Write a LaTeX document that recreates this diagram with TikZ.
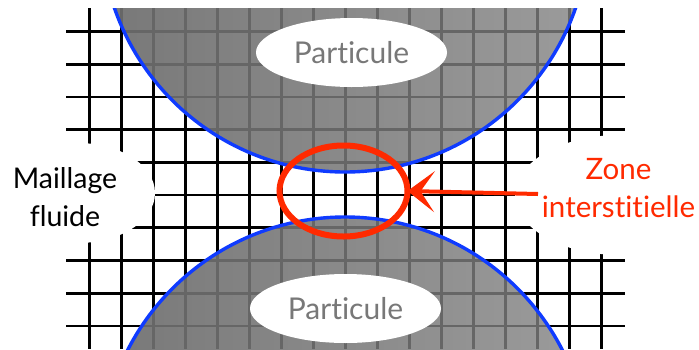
\documentclass[tikz,border=0pt]{standalone}
\usepackage{fontspec}
\setmainfont[Ligatures=CommonOff]{Lato}
\usetikzlibrary{shapes.geometric,arrows.meta}
\definecolor{redz}{HTML}{FF2A00}
\definecolor{bluec}{HTML}{0F3BFF}
\definecolor{gridgray}{HTML}{666666}
\tikzset{
  vline/.style={line width=2.9pt},
  hline/.style={line width=2.5pt},
  sphere/.style={left color=black!53,right color=black!39,shading angle=90},
  rim/.style={draw=bluec,line width=3.4pt},
  partlabel/.style={ellipse,fill=white,inner sep=0pt,outer sep=0pt,text=black!53,font=\fontsize{30}{33}\selectfont},
  sidelabel/.style={align=center,inner sep=0pt,font=\fontsize{29.5}{38}\selectfont}
}
\newcommand{\meshlines}{%
  \foreach \k in {0,...,16} {\draw[vline] ({89.5+32*\k},8) -- ({89.5+32*\k},349);}
  \foreach \j in {31.7,64.3,97,129.7,162.3,195,227.7,260.7,293.3,326} {\draw[hline] (66,\j) -- (625,\j);}
}
\begin{document}
\begin{tikzpicture}[x=1pt,y=-1pt]
\useasboundingbox (0,0) rectangle (699,349);
\fill[white] (0,0) rectangle (699,349);
\meshlines
\fill[white] (78,193) ellipse [x radius=77,y radius=50];
\fill[white] (620,195) ellipse [x radius=105,y radius=60];
\begin{scope}
  \clip (0,8) rectangle (699,349);
  \begin{scope}
    \clip (345,-72) circle [radius=244];
    \shade[sphere] (100,0) rectangle (590,180);
    \begin{scope}[gridgray] \tikzset{every path/.append style={draw=gridgray}} \meshlines \end{scope}
  \end{scope}
  \begin{scope}
    \clip (345,461) circle [radius=244];
    \shade[sphere] (100,210) rectangle (590,349);
    \begin{scope}[gridgray] \tikzset{every path/.append style={draw=gridgray}} \meshlines \end{scope}
  \end{scope}
  \draw[rim] (345,-72) circle [radius=244];
  \draw[rim] (345,461) circle [radius=244];
\end{scope}
\node[partlabel,minimum width=191pt,minimum height=69pt] (ptop) at (351.5,52.5) {Particule};
\node[partlabel,minimum width=191pt,minimum height=69pt] (pbot) at (345.5,308.5) {Particule};
\node[sidelabel,font=\fontsize{28.5}{38}\selectfont] (mesh) at (65,197) {Maillage\\fluide};
\node[sidelabel,text=redz] (zone) at (618.5,188) {Zone\\interstitielle};
\node[ellipse,draw=redz,line width=6pt,inner sep=0pt,outer sep=0pt,minimum width=128pt,minimum height=91pt] (gap) at (343.5,191) {};
\coordinate (tail) at (538,194);
\draw[redz,line width=4pt,-{Stealth[length=27pt,width=41pt,inset=14pt]}] (tail) -- (gap.east);
\end{tikzpicture}
\end{document}
